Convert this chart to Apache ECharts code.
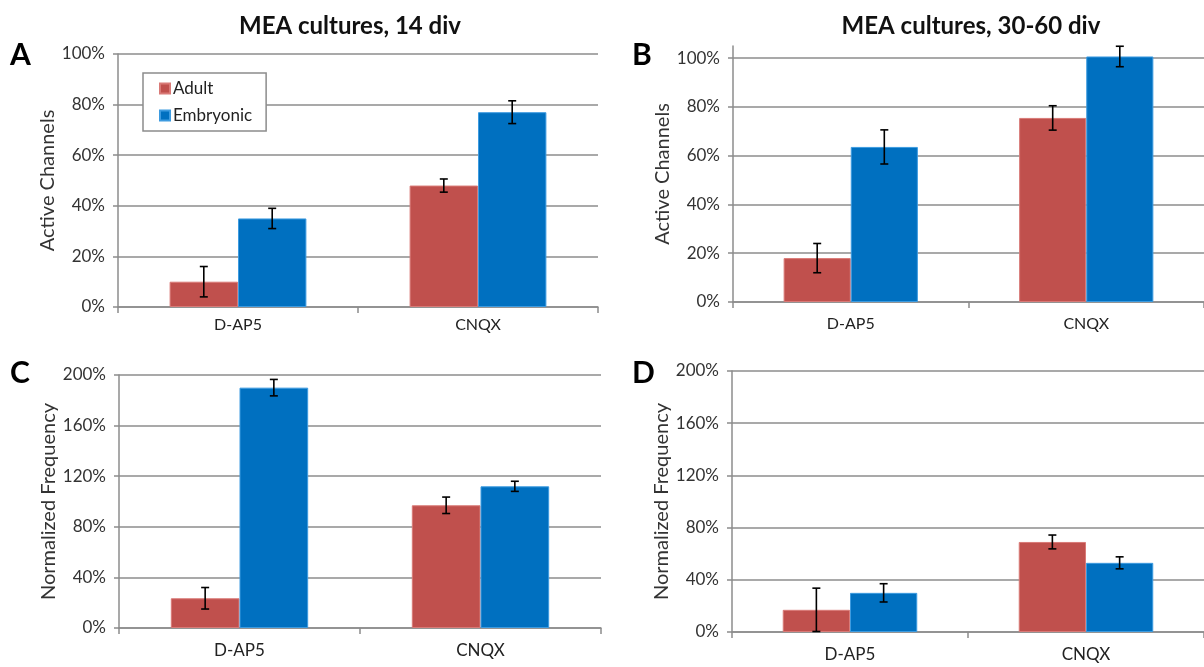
<!DOCTYPE html>
<html>
<head>
<meta charset="utf-8">
<script src="https://cdn.jsdelivr.net/npm/echarts@6/dist/echarts.min.js"></script>
<style>
  html, body { margin: 0; padding: 0; background: #fff; }
  #chart { width: 1204px; height: 667px; }
</style>
</head>
<body>
<div id="chart"></div>
<script>
// Treatments on the x axis
const categories = ['D-AP5', 'CNQX'];
const groups = ['Adult', 'Embryonic'];

// Active channels (%), 14 div
const activeAdult14 = [10, 48];
const activeAdult14Err = [6, 2.6];
const activeEmb14 = [35, 77];
const activeEmb14Err = [4, 4.5];

// Active channels (%), 30-60 div
const activeAdult30 = [18, 75.5];
const activeAdult30Err = [6, 5];
const activeEmb30 = [63.6, 100.7];
const activeEmb30Err = [7, 4.2];

// Normalized frequency (%), 14 div
const freqAdult14 = [23.5, 97];
const freqAdult14Err = [8.5, 6.5];
const freqEmb14 = [190, 112];
const freqEmb14Err = [6.5, 4];

// Normalized frequency (%), 30-60 div
const freqAdult30 = [17, 69];
const freqAdult30Err = [16.6, 5.3];
const freqEmb30 = [30, 53];
const freqEmb30Err = [7, 4.6];

const FONT = 'Lato';
const RED = '#C0504D';
const BLUE = '#0070C0';
const GRID_GRAY = '#8c8c8c';
const BAR_GAP_PCT = 43;           // space between category groups
const BAR_FRAC = 1 - BAR_GAP_PCT / 100;

const chart = echarts.init(document.getElementById('chart'), null, { renderer: 'canvas' });

function yAxis(gridIndex, max, interval, name, showTop) {
  return {
    type: 'value', gridIndex, min: 0, max, interval,
    name, nameLocation: 'middle', nameGap: 60,
    nameTextStyle: { fontFamily: FONT, fontSize: 20, color: '#333' },
    axisLine: { show: true, lineStyle: { color: GRID_GRAY, width: 1.5 } },
    axisTick: { show: true, length: 5, lineStyle: { color: GRID_GRAY, width: 1.5 } },
    axisLabel: { fontFamily: FONT, fontSize: 17, color: '#333', margin: 13,
                 formatter: '{value}%', showMaxLabel: showTop },
    splitLine: { show: true, showMaxLine: showTop, lineStyle: { color: GRID_GRAY, width: 1.5 } }
  };
}

function xAxis(gridIndex, fontSize, margin) {
  return {
    type: 'category', gridIndex, data: categories,
    axisLine: { show: true, lineStyle: { color: GRID_GRAY, width: 1.5 } },
    axisTick: { show: true, length: 6, lineStyle: { color: GRID_GRAY, width: 1.5 } },
    axisLabel: { fontFamily: FONT, fontSize, color: '#222', margin }
  };
}

function bars(name, idx, values, color, border) {
  return {
    type: 'bar', name, xAxisIndex: idx, yAxisIndex: idx, data: values,
    barGap: '0%', barCategoryGap: BAR_GAP_PCT + '%',
    itemStyle: { color, borderColor: border, borderWidth: 1 },
    z: 2
  };
}

// Error bars drawn at the centre of each bar in the pair
function errors(idx, values, errs, side) {
  return {
    type: 'custom', xAxisIndex: idx, yAxisIndex: idx, z: 5,
    data: values.map((v, i) => [i, v, errs[i]]),
    encode: { x: 0, y: 1 },
    renderItem: function (params, api) {
      const i = api.value(0), v = api.value(1), e = api.value(2);
      const band = api.size([1, 0])[0];
      const off = side * band * BAR_FRAC / 4;
      const top = api.coord([i, v + e]);
      const bot = api.coord([i, Math.max(0, v - e)]);
      const cx = top[0] + off;
      const cap = 4;
      const style = { stroke: '#000', lineWidth: 1.6 };
      return {
        type: 'group',
        children: [
          { type: 'line', shape: { x1: cx, y1: top[1], x2: cx, y2: bot[1] }, style },
          { type: 'line', shape: { x1: cx - cap, y1: top[1], x2: cx + cap, y2: top[1] }, style },
          { type: 'line', shape: { x1: cx - cap, y1: bot[1], x2: cx + cap, y2: bot[1] }, style }
        ]
      };
    }
  };
}

const RED_EDGE = '#d97a77';
const BLUE_EDGE = '#3d9be0';

const panelLetter = (text, left, top) => ({
  type: 'text', left, top,
  style: { text, fontFamily: FONT, fontWeight: 'bold', fontSize: 30, fill: '#000' }
});

const option = {
  animation: false,
  backgroundColor: '#fff',
  title: [
    { text: 'MEA cultures, 14 div', left: 345, top: 9, textAlign: 'center',
      textStyle: { fontFamily: FONT, fontWeight: 'bold', fontSize: 24, color: '#111' } },
    { text: 'MEA cultures, 30-60 div', left: 966, top: 9, textAlign: 'center',
      textStyle: { fontFamily: FONT, fontWeight: 'bold', fontSize: 24, color: '#111' } }
  ],
  legend: {
    data: groups, orient: 'vertical', left: 143, top: 73,
    width: 125, height: 57,
    padding: [7, 14, 7, 16],
    itemGap: 10, itemWidth: 10, itemHeight: 10, icon: 'rect',
    backgroundColor: '#fff', borderColor: '#8c8c8c', borderWidth: 1.5,
    textStyle: { fontFamily: FONT, fontSize: 17, color: '#222', padding: [0, 0, 0, -2] }
  },
  grid: [
    { left: 118, top: 54, width: 480, height: 253 },
    { left: 733, top: 46, width: 482, height: 256 },
    { left: 119, top: 375, width: 482, height: 253 },
    { left: 732, top: 371, width: 482, height: 261 }
  ],
  xAxis: [xAxis(0, 16, 10), xAxis(1, 16, 14), xAxis(2, 17, 14), xAxis(3, 17, 14)],
  yAxis: [
    yAxis(0, 100, 20, 'Active Channels', true),
    yAxis(1, 105, 20, 'Active Channels', false),
    yAxis(2, 200, 40, 'Normalized Frequency', true),
    yAxis(3, 200, 40, 'Normalized Frequency', true)
  ],
  graphic: [
    panelLetter('A', 10, 40),
    panelLetter('B', 632, 40),
    panelLetter('C', 10, 358),
    panelLetter('D', 632, 358)
  ],
  series: [
    bars('Adult', 0, activeAdult14, RED, RED_EDGE),
    bars('Embryonic', 0, activeEmb14, BLUE, BLUE_EDGE),
    bars('Adult', 1, activeAdult30, RED, RED_EDGE),
    bars('Embryonic', 1, activeEmb30, BLUE, BLUE_EDGE),
    bars('Adult', 2, freqAdult14, RED, RED_EDGE),
    bars('Embryonic', 2, freqEmb14, BLUE, BLUE_EDGE),
    bars('Adult', 3, freqAdult30, RED, RED_EDGE),
    bars('Embryonic', 3, freqEmb30, BLUE, BLUE_EDGE),
    errors(0, activeAdult14, activeAdult14Err, -1),
    errors(0, activeEmb14, activeEmb14Err, 1),
    errors(1, activeAdult30, activeAdult30Err, -1),
    errors(1, activeEmb30, activeEmb30Err, 1),
    errors(2, freqAdult14, freqAdult14Err, -1),
    errors(2, freqEmb14, freqEmb14Err, 1),
    errors(3, freqAdult30, freqAdult30Err, -1),
    errors(3, freqEmb30, freqEmb30Err, 1)
  ]
};

chart.setOption(option);
</script>
</body>
</html>
